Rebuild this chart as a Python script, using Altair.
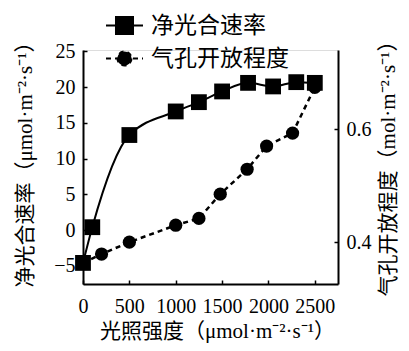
import altair as alt
import pandas as pd

series_names = ["净光合速率", "气孔开放程度"]
light_rate = [0, 100, 500, 1000, 1250, 1500, 1780, 2050, 2300, 2500]
net_rate = [-4.6, 0.4, 13.3, 16.6, 17.9, 19.4, 20.6, 20.1, 20.7, 20.6]
light_stoma = [0, 200, 500, 1000, 1250, 1480, 1770, 1980, 2260, 2500]
stoma = [0.363, 0.379, 0.400, 0.430, 0.442, 0.485, 0.529, 0.570, 0.593, 0.674]

x_ticks = [0, 500, 1000, 1500, 2000, 2500]
left_ticks = [-5, 0, 5, 10, 15, 20, 25]
right_ticks = [0.4, 0.6]

x_title = "光照强度（μmol·m⁻²·s⁻¹）"
left_title = "净光合速率（μmol·m⁻²·s⁻¹）"
right_title = "气孔开放程度（mol·m⁻²·s⁻¹）"

FONT = "Liberation Serif, Noto Sans CJK SC"

df_rate = pd.DataFrame({"light": light_rate, "value": net_rate})
df_stoma = pd.DataFrame({"light": light_stoma, "value": stoma})
df_leg = pd.DataFrame({"series": series_names})

common_axis = dict(
    domainColor="black", domainWidth=2, tickColor="black", tickWidth=1.5,
    tickSize={"expr": "-4"}, labelColor="black", labelFont=FONT, labelFontSize=20,
    titleFont=FONT, titleFontSize=21, titleFontWeight="normal", titleColor="black",
    grid=False,
)

x_enc = alt.X(
    "light:Q",
    scale=alt.Scale(domain=[0, 2750], nice=False, zero=False),
    axis=alt.Axis(values=x_ticks, format="d", title=x_title, titleX=134, titleY=47,
                  titleBaseline="middle", titleAlign="center", labelPadding=16,
                  labelFlush=False, labelOverlap=False, **common_axis),
)

y_left = alt.Y(
    "value:Q",
    scale=alt.Scale(domain=[-7.55, 25.2], nice=False, zero=False),
    axis=alt.Axis(values=left_ticks, title=left_title, orient="left", titleAngle=270,
                  titleX=-58, titleY=109, titleBaseline="middle", titleAlign="center",
                  labelPadding=12, labelFlush=False, labelOverlap=False, **common_axis),
)

y_right = alt.Y(
    "value:Q",
    scale=alt.Scale(domain=[0.326, 0.74], nice=False, zero=False),
    axis=alt.Axis(values=right_ticks, format=".1f", title=right_title, orient="right",
                  titleAngle=270, titleX=50, titleY=113, titleBaseline="middle",
                  titleAlign="center", labelPadding=12, labelFlush=False,
                  labelOverlap=False, **common_axis),
)

line_rate = alt.Chart(df_rate).mark_line(
    color="black", strokeWidth=2, interpolate="monotone"
).encode(x=x_enc, y=y_left)
pts_rate = alt.Chart(df_rate).mark_point(
    shape="square", filled=True, color="black", size=250, opacity=1
).encode(x=x_enc, y=y_left)
left = alt.layer(line_rate, pts_rate)

line_st = alt.Chart(df_stoma).mark_line(
    color="black", strokeWidth=2.5, strokeDash=[5, 4]
).encode(x=x_enc, y=y_right)
pts_st = alt.Chart(df_stoma).mark_point(
    shape="circle", filled=True, color="black", size=175, opacity=1
).encode(x=x_enc, y=y_right)
right = alt.layer(line_st, pts_st)

sq_path = "M-1,0H1M-0.46,-0.46H0.46V0.46H-0.46Z"
ci_path = "M-1,0H1M0.38,0A0.38,0.38 0 1,1 -0.38,0A0.38,0.38 0 1,1 0.38,0Z"

leg_props = dict(
    orient="none", legendX=22, legendY=-44, title=None, padding=0,
    labelFont=FONT, labelFontSize=23, labelColor="black", labelOffset=7,
    symbolSize=1369, symbolStrokeWidth=2, symbolOpacity=1, rowPadding=-15,
)

legend_layer = alt.Chart(df_leg).transform_filter("false").mark_point(
    filled=False, fill="black", stroke="black", strokeWidth=2, opacity=1, size=1369
).encode(
    shape=alt.Shape("series:N", scale=alt.Scale(domain=series_names, range=[sq_path, ci_path]),
                    legend=alt.Legend(**leg_props)),
    strokeDash=alt.StrokeDash("series:N", scale=alt.Scale(domain=series_names, range=[[1, 0], [5, 4]]),
                              legend=alt.Legend(**leg_props)),
)

chart = alt.layer(left, right, legend_layer).resolve_scale(y="independent").properties(
    width=255, height=234,
    padding={"left": 75, "top": 42, "right": 63, "bottom": 59},
    autosize=alt.AutoSizeParams(type="none"),
).configure_view(stroke=None).configure(background="white")

chart.save("out.html", embed_options={"renderer": "svg", "actions": False})
